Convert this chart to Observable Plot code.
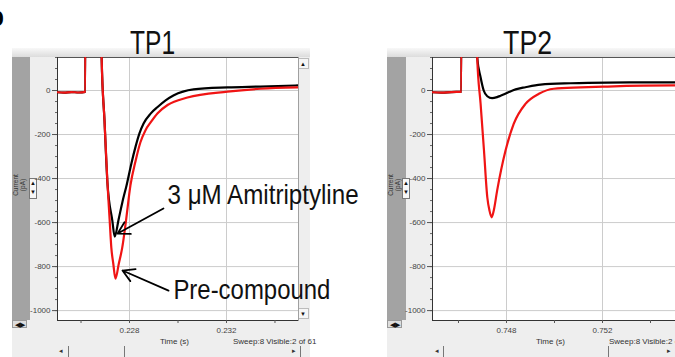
<!DOCTYPE html>
<html><head><meta charset="utf-8">
<script src="https://cdn.jsdelivr.net/npm/d3@7"></script>
<script src="https://cdn.jsdelivr.net/npm/@observablehq/plot@0.6"></script>
<style>
html,body{margin:0;padding:0;background:#fff;}
#wrap{position:relative;width:675px;height:357px;overflow:hidden;background:#fff;font-family:"Liberation Sans",Arial,sans-serif;}
.a{position:absolute;}
.band{background:linear-gradient(#f8f8f8,#dcdcdc);height:9px;top:48px;}
.body{background:#eeeeee;top:57px;height:300px;}
.strip{background:#a3a3a3;top:57px;height:263px;}
.ylab{font-size:6.5px;color:#333;line-height:7px;text-align:center;transform:rotate(-90deg);transform-origin:center;width:34px;height:14px;}
.spin{width:6px;height:19px;border:1px solid #777;background:#f7f7f7;font-size:6px;line-height:9px;text-align:center;color:#111;top:178px;}
.small{font-size:8px;color:#333;white-space:nowrap;}
.btn{width:12px;height:11px;background:#f6f6f6;border:1px solid #bbb;font-size:6px;line-height:11px;text-align:center;color:#111;box-sizing:border-box;}
.nav{font-size:7px;color:#111;background:#ddd;border:1px solid #999;line-height:7px;height:8px;width:15px;top:320px;text-align:center;box-sizing:border-box;}
.vl{width:1px;background:#777;top:346px;height:11px;}
svg{position:absolute;top:0;}
</style></head><body><div id="wrap">
<div class="a" style="left:-13px;top:3px;font-size:28px;font-weight:bold;line-height:28px;">b</div>
<!-- left panel chrome -->
<div class="a band" style="left:12px;width:298px;"></div>
<div class="a body" style="left:12px;width:298px;"></div>
<div class="a strip" style="left:12px;width:18px;"></div>
<div class="a ylab" style="left:2px;top:178px;">Current<br>(pA)</div>
<div class="a spin" style="left:29px;">▲<br>▼</div>
<div class="a btn" style="left:297px;top:58px;">▲</div>
<div class="a btn" style="left:297px;top:308px;">▼</div>
<div class="a nav" style="left:12px;">◀▶</div>
<div class="a small" style="left:160px;top:337px;">Time (s)</div>
<div class="a small" style="left:233px;top:337px;">Sweep:8 Visible:2 of 61</div>
<div class="a small" style="left:59px;top:347px;font-size:7px;">◂</div>
<div class="a vl" style="left:68px;"></div>
<div class="a vl" style="left:124px;"></div>
<div class="a small" style="left:292px;top:347px;font-size:7px;">▸</div>
<div class="a vl" style="left:300px;"></div>
<!-- right panel chrome -->
<div class="a band" style="left:387px;width:300px;"></div>
<div class="a body" style="left:387px;width:300px;"></div>
<div class="a strip" style="left:387px;width:19px;"></div>
<div class="a ylab" style="left:377px;top:178px;">Current<br>(pA)</div>
<div class="a spin" style="left:402px;">▲<br>▼</div>
<div class="a nav" style="left:387px;">◀▶</div>
<div class="a small" style="left:536px;top:337px;">Time (s)</div>
<div class="a small" style="left:609px;top:337px;">Sweep:8 Visible:2 of 61</div>
<div class="a small" style="left:435px;top:347px;font-size:7px;">◂</div>
<div class="a vl" style="left:443px;"></div>
<div class="a vl" style="left:608px;"></div>
<div class="a small" style="left:667px;top:347px;font-size:7px;">▸</div>
</div>
<script>
// ---------- data ----------
const yDomain = [-1045, 150];
const yMajor = [-1000, -800, -600, -400, -200, 0];
const yMinor = [-1000,-950,-900,-850,-800,-750,-700,-650,-600,-550,-500,-450,-400,-350,-300,-250,-200,-150,-100,-50,0,50,100,150];

// TP1
const tp1Domain = [0.22503, 0.23497];
const tp1Major = [0.228, 0.232];
const tp1Minor = [0.226, 0.228, 0.230, 0.232, 0.234];
const tp1PreTime = [0.22503,0.22530,0.22560,0.22590,0.22618,0.22619,0.22680,0.22685,0.22697,0.22709,0.22718,0.22725,0.22733,0.22742,0.22756,0.22770,0.22784,0.22804,0.22825,0.22845,0.22866,0.22887,0.22916,0.22957,0.23039,0.23204,0.23340,0.23493];
const tp1PreCurrent = [-8,-10,-7,-9,-6,2000,2000,150,-140,-420,-586,-714,-786,-855,-786,-714,-605,-430,-320,-235,-180,-145,-103,-66,-32,-5,8,14];
const tp1DrugTime = [0.22503,0.22530,0.22560,0.22590,0.22618,0.22619,0.22680,0.22685,0.22697,0.22709,0.22729,0.22739,0.22755,0.22771,0.22788,0.22808,0.22825,0.22841,0.22858,0.22887,0.22916,0.22949,0.22981,0.23064,0.23204,0.23340,0.23493];
const tp1DrugCurrent = [-8,-10,-7,-9,-6,2000,2000,150,-140,-420,-590,-664,-586,-505,-430,-330,-255,-195,-150,-105,-75,-45,-23,5,14,18,23];

// TP2
const tp2Domain = [0.744917, 0.755458];
const tp2Major = [0.748, 0.752];
const tp2Minor = [0.746, 0.748, 0.750, 0.752, 0.754];
const tp2PreTime = [0.74492,0.74530,0.74570,0.74612,0.74615,0.74675,0.74678,0.74692,0.74706,0.74720,0.74729,0.74738,0.74747,0.74761,0.74796,0.74830,0.74879,0.74935,0.74997,0.75108,0.75221,0.75496,0.75567];
const tp2PreCurrent = [-8,-10,-7,-6,2000,2000,150,-59,-269,-485,-545,-576,-545,-455,-273,-152,-61,-15,8,14,18,23,23];
const tp2DrugTime = [0.74492,0.74530,0.74570,0.74612,0.74615,0.74675,0.74678,0.74692,0.74705,0.74720,0.74740,0.74761,0.74775,0.74808,0.74838,0.74879,0.74942,0.75067,0.75221,0.75496,0.75567];
const tp2DrugCurrent = [-8,-10,-7,-6,2000,2000,150,60,0,-26,-35,-30,-24,-8,5,15,27,33,36,37,37];

// annotations (TP1)
const annoText = ["3 μM Amitriptyline", "Pre-compound"];
const annoTime = [0.22957, 0.22981];
const annoCurrent = [-477, -905];
const arrowTailTime = [0.22940, 0.22961];
const arrowTailCurrent = [-536, -909];
const arrowHeadTime = [0.22751, 0.22771];
const arrowHeadCurrent = [-650, -818];

const titles = ["TP1", "TP2"];
const titleTime = [0.22895, 0.74888];
const titleCurrent = [216, 216];

const textWidths = {"TP1": 45, "TP2": 49, "3 μM Amitriptyline": 191, "Pre-compound": 157};

const RED = "#f01414";
const zip = (t, c) => t.map((d, i) => ({t: d, c: c[i]}));

function panel({domain, major, minor, pre, drug, left, width, marginLeft, marginRight, title, anno}) {
  const marks = [
    Plot.frame({fill: "white", stroke: "#a0a0a0"}),
    Plot.ruleY(yMajor, {stroke: "#cccccc", strokeWidth: 1}),
    Plot.ruleX(major, {stroke: "#cccccc", strokeWidth: 1}),
    Plot.ruleY([yDomain[1]], {stroke: "#555"}),
    Plot.ruleX([domain[0]], {stroke: "#333"}),
    Plot.ruleY([yDomain[0]], {stroke: "#333"}),
    Plot.line(drug, {x: "t", y: "c", stroke: "#000", strokeWidth: 2.2, curve: "monotone-x", clip: true}),
    Plot.line(pre, {x: "t", y: "c", stroke: RED, strokeWidth: 2.2, curve: "monotone-x", clip: true}),
    Plot.axisY({ticks: yMinor, tickSize: 2, tickFormat: () => "", label: null, stroke: "#666"}),
    Plot.axisY({ticks: yMajor, tickSize: 5, tickPadding: 2, tickFormat: d => String(d), fontSize: 8, fill: "#444", stroke: "#555", label: null}),
    Plot.axisX({ticks: minor, tickSize: 3, tickFormat: () => "", label: null, stroke: "#555"}),
    Plot.axisX({ticks: major, tickSize: 0, tickPadding: 7, tickFormat: d3.format(".3f"), fontSize: 8, fill: "#444", label: null}),
    Plot.text([title], {x: d => titleTime[titles.indexOf(d)], y: d => titleCurrent[titles.indexOf(d)], text: d => d, fontSize: 34, fill: "#111", lineAnchor: "middle", textAnchor: "middle"})
  ];
  if (anno) {
    marks.push(
      Plot.arrow(annoText, {x1: (d, i) => arrowTailTime[i], y1: (d, i) => arrowTailCurrent[i], x2: (d, i) => arrowHeadTime[i], y2: (d, i) => arrowHeadCurrent[i], stroke: "#000", strokeWidth: 1.8, headLength: 11, bend: 0}),
      Plot.text(annoText, {x: (d, i) => annoTime[i], y: (d, i) => annoCurrent[i], text: d => d, fontSize: 28, fill: "#111", textAnchor: "start", lineAnchor: "middle"})
    );
  }
  const svg = Plot.plot({
    width, height: 357,
    marginLeft, marginRight, marginTop: 57, marginBottom: 37,
    x: {domain, label: null},
    y: {domain: yDomain, label: null},
    style: {background: "transparent", overflow: "visible", fontFamily: "Liberation Sans, Arial, sans-serif"},
    marks
  });
  svg.style.left = left + "px";
  svg.style.position = "absolute";
  svg.style.top = "0px";
  svg.style.maxWidth = "none";
  svg.querySelectorAll("text").forEach(el => {
    const w = textWidths[el.textContent];
    if (w) { el.setAttribute("textLength", w); el.setAttribute("lengthAdjust", "spacingAndGlyphs"); }
  });
  document.getElementById("wrap").appendChild(svg);
}

panel({domain: tp1Domain, major: tp1Major, minor: tp1Minor, pre: zip(tp1PreTime, tp1PreCurrent), drug: zip(tp1DrugTime, tp1DrugCurrent), left: 0, width: 340, marginLeft: 57, marginRight: 42, title: "TP1", anno: true});
panel({domain: tp2Domain, major: tp2Major, minor: tp2Minor, pre: zip(tp2PreTime, tp2PreCurrent), drug: zip(tp2DrugTime, tp2DrugCurrent), left: 340, width: 400, marginLeft: 92, marginRight: 55, title: "TP2", anno: false});
</script>
</body></html>
